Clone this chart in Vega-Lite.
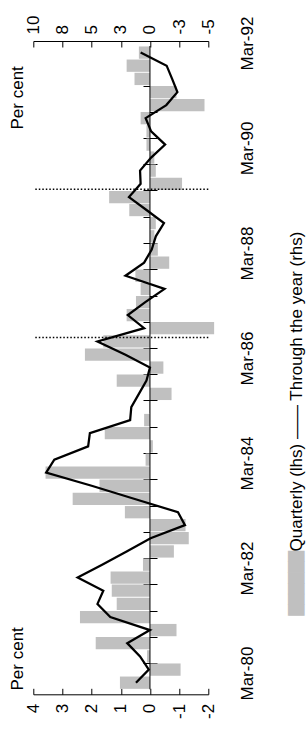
{
  "$schema": "https://vega.github.io/schema/vega-lite/v6.json",
  "width": 175,
  "height": 653.3,
  "autosize": {"type": "none"},
  "padding": {"left": 33.3, "top": 41, "right": 98.7, "bottom": 41.7},
  "config": {
    "view": {"stroke": null},
    "font": "Liberation Sans",
    "axis": {"grid": false, "labelFont": "Liberation Sans", "titleFont": "Liberation Sans", "labelColor": "#000", "titleColor": "#000", "domainColor": "#000", "tickColor": "#000", "labelFontSize": 17, "titleFontSize": 17, "titleFontWeight": "normal"}
  },
  "datasets": {
    "series": [
      {"d": "1979-12-01", "q": 1.03, "t": 1.2},
      {"d": "1980-03-01", "q": -1.05, "t": 0.1},
      {"d": "1980-06-01", "q": 0.1, "t": 0.85},
      {"d": "1980-09-01", "q": 1.86, "t": 1.95},
      {"d": "1980-12-01", "q": -0.91, "t": 0.0},
      {"d": "1981-03-01", "q": 2.4, "t": 3.4},
      {"d": "1981-06-01", "q": 1.14, "t": 4.5},
      {"d": "1981-09-01", "q": 1.31, "t": 4.0},
      {"d": "1981-12-01", "q": 1.35, "t": 6.2},
      {"d": "1982-03-01", "q": 0.24, "t": 4.1},
      {"d": "1982-06-01", "q": -0.82, "t": 2.0},
      {"d": "1982-09-01", "q": -1.33, "t": -0.05},
      {"d": "1982-12-01", "q": -1.22, "t": -3.0},
      {"d": "1983-03-01", "q": 0.86, "t": -2.4},
      {"d": "1983-06-01", "q": 2.65, "t": 1.3},
      {"d": "1983-09-01", "q": 1.73, "t": 5.0},
      {"d": "1983-12-01", "q": 3.58, "t": 8.9},
      {"d": "1984-03-01", "q": 0.15, "t": 8.2},
      {"d": "1984-06-01", "q": -0.1, "t": 5.3},
      {"d": "1984-09-01", "q": 1.55, "t": 5.15},
      {"d": "1984-12-01", "q": 0.2, "t": 1.7},
      {"d": "1985-03-01", "q": 0.03, "t": 1.6},
      {"d": "1985-06-01", "q": -0.74, "t": 0.95},
      {"d": "1985-09-01", "q": 1.14, "t": 0.3},
      {"d": "1985-12-01", "q": -0.46, "t": 0.0},
      {"d": "1986-03-01", "q": 2.23, "t": 2.1},
      {"d": "1986-06-01", "q": 1.6, "t": 4.5},
      {"d": "1986-09-01", "q": -2.2, "t": 0.5},
      {"d": "1986-12-01", "q": 0.8, "t": 1.9},
      {"d": "1987-03-01", "q": 0.48, "t": 0.4},
      {"d": "1987-06-01", "q": 0.32, "t": -1.25},
      {"d": "1987-09-01", "q": 0.5, "t": 2.1},
      {"d": "1987-12-01", "q": -0.66, "t": 0.5},
      {"d": "1988-03-01", "q": -0.27, "t": -0.15},
      {"d": "1988-06-01", "q": -0.15, "t": -0.5},
      {"d": "1988-09-01", "q": -0.2, "t": -1.2},
      {"d": "1988-12-01", "q": 0.71, "t": 0.3},
      {"d": "1989-03-01", "q": 1.4, "t": 1.8},
      {"d": "1989-06-01", "q": -1.1, "t": 0.8},
      {"d": "1989-09-01", "q": -0.2, "t": 0.85},
      {"d": "1989-12-01", "q": -0.15, "t": -0.1},
      {"d": "1990-03-01", "q": 0.12, "t": -1.3},
      {"d": "1990-06-01", "q": 0.12, "t": -0.1},
      {"d": "1990-09-01", "q": 0.32, "t": 0.37},
      {"d": "1990-12-01", "q": -1.87, "t": -1.4},
      {"d": "1991-03-01", "q": -0.91, "t": -2.35},
      {"d": "1991-06-01", "q": 0.53, "t": -1.9},
      {"d": "1991-09-01", "q": 0.8, "t": -1.43},
      {"d": "1991-12-01", "q": 0.38, "t": 0.8}
    ],
    "events": [
      {"d": "1986-06-28"},
      {"d": "1989-04-25"}
    ]
  },
  "resolve": {"scale": {"x": "independent"}, "axis": {"x": "independent", "y": "independent"}},
  "layer": [
    {
      "data": {"name": "series"},
      "mark": {"type": "bar", "orient": "horizontal", "size": 12.3, "color": "#c0c0c0"},
      "encoding": {
        "x": {
          "field": "q", "type": "quantitative",
          "scale": {"domain": [-2, 4], "reverse": true, "nice": false, "zero": true},
          "axis": {"orient": "bottom", "values": [-2, -1, 0, 1, 2, 3, 4], "labelAngle": 270, "labelAlign": "right", "labelBaseline": "middle", "labelPadding": 15, "tickSize": -6, "labelFlush": false, "labelOverlap": false,
            "labelExpr": "datum.value < 0 ? '-' + (-datum.value) : '' + datum.value",
            "title": "Per cent", "titleAngle": 270, "titleAlign": "left", "titleBaseline": "middle", "titleX": -16.3, "titleY": -4.3}
        },
        "y": {
          "field": "d", "type": "temporal",
          "scale": {"type": "utc", "nice": false, "domain": [{"year": 1979, "month": 10, "date": 16, "utc": true}, {"year": 1992, "month": 1, "date": 16, "utc": true}]},
          "axis": {"orient": "right", "values": [
              {"year": 1980, "month": 1, "date": 16, "utc": true},
              {"year": 1982, "month": 1, "date": 16, "utc": true},
              {"year": 1984, "month": 1, "date": 16, "utc": true},
              {"year": 1986, "month": 1, "date": 16, "utc": true},
              {"year": 1988, "month": 1, "date": 16, "utc": true},
              {"year": 1990, "month": 1, "date": 16, "utc": true},
              {"year": 1992, "month": 1, "date": 16, "utc": true}],
            "labelExpr": "'Mar-' + utcFormat(datum.value, '%y')",
            "labelAngle": 270, "labelAlign": "center", "labelBaseline": "top", "labelPadding": 31, "labelOffset": -3,
            "ticks": false, "tickSize": 0, "domain": false, "title": null, "labelFlush": false, "labelOverlap": false, "labelBound": false}
        }
      }
    },
    {
      "data": {"name": "series"},
      "mark": {"type": "line", "color": "#000", "strokeWidth": 2.25},
      "encoding": {
        "x": {
          "field": "t", "type": "quantitative",
          "scale": {"domain": [-5, 10], "reverse": true, "nice": false, "zero": false},
          "axis": {"orient": "top", "values": [-5, -2.5, 0, 2.5, 5, 7.5, 10], "labelAngle": 270, "labelAlign": "left", "labelBaseline": "middle", "labelPadding": 13, "tickSize": -6, "labelFlush": false, "labelOverlap": false,
            "labelExpr": "datum.value < 0 ? '-' + round(-datum.value) : '' + round(datum.value)",
            "title": "Per cent", "titleAngle": 270, "titleAlign": "left", "titleBaseline": "middle", "titleX": -16.3, "titleY": 88}
        },
        "y": {
          "field": "d", "type": "temporal",
          "scale": {"type": "utc", "nice": false, "domain": [{"year": 1979, "month": 10, "date": 16, "utc": true}, {"year": 1992, "month": 1, "date": 16, "utc": true}]},
          "axis": {"orient": "right", "labels": false, "ticks": false, "domain": false, "grid": false,
            "title": "Quarterly (lhs)   —— Through the year (rhs)", "titleAngle": 270, "titleAlign": "left", "titleBaseline": "middle", "titleX": 88, "titleY": 510}
        },
        "order": {"field": "d", "type": "temporal"}
      }
    },
    {
      "data": {"values": [{}]},
      "mark": {"type": "rule", "color": "#000", "strokeWidth": 1},
      "encoding": {
        "x": {"datum": 0, "type": "quantitative", "scale": {"domain": [-2, 4], "reverse": true, "nice": false}, "axis": null},
        "y": {"datum": {"year": 1979, "month": 10, "date": 16, "utc": true}, "type": "temporal",
          "scale": {"type": "utc", "nice": false, "domain": [{"year": 1979, "month": 10, "date": 16, "utc": true}, {"year": 1992, "month": 1, "date": 16, "utc": true}]},
          "axis": {"orient": "right", "labels": false, "ticks": false, "domain": false, "grid": false,
            "title": "██████", "titleFont": "DejaVu Sans", "titleFontSize": 14, "titleColor": "#c0c0c0", "titleAngle": 270, "titleAlign": "left", "titleBaseline": "middle", "titleX": 88, "titleY": 574}},
        "y2": {"datum": {"year": 1992, "month": 1, "date": 16, "utc": true}}
      }
    },
    {
      "data": {"name": "events"},
      "mark": {"type": "rule", "color": "#000", "strokeWidth": 1.5, "strokeDash": [1.5, 2]},
      "encoding": {
        "y": {
          "field": "d", "type": "temporal",
          "scale": {"type": "utc", "nice": false, "domain": [{"year": 1979, "month": 10, "date": 16, "utc": true}, {"year": 1992, "month": 1, "date": 16, "utc": true}]},
          "axis": {"orient": "left", "offset": -123.7, "labels": false, "domain": false, "grid": false, "ticks": true, "tickSize": 14, "tickWidth": 1, "tickColor": "#000", "title": null,
            "values": [
              {"year": 1980, "month": 4, "date": 16, "utc": true}, {"year": 1980, "month": 10, "date": 16, "utc": true},
              {"year": 1981, "month": 4, "date": 16, "utc": true}, {"year": 1981, "month": 10, "date": 16, "utc": true},
              {"year": 1982, "month": 4, "date": 16, "utc": true}, {"year": 1982, "month": 10, "date": 16, "utc": true},
              {"year": 1983, "month": 4, "date": 16, "utc": true}, {"year": 1983, "month": 10, "date": 16, "utc": true},
              {"year": 1984, "month": 4, "date": 16, "utc": true}, {"year": 1984, "month": 10, "date": 16, "utc": true},
              {"year": 1985, "month": 4, "date": 16, "utc": true}, {"year": 1985, "month": 10, "date": 16, "utc": true},
              {"year": 1986, "month": 4, "date": 16, "utc": true}, {"year": 1986, "month": 10, "date": 16, "utc": true},
              {"year": 1987, "month": 4, "date": 16, "utc": true}, {"year": 1987, "month": 10, "date": 16, "utc": true},
              {"year": 1988, "month": 4, "date": 16, "utc": true}, {"year": 1988, "month": 10, "date": 16, "utc": true},
              {"year": 1989, "month": 4, "date": 16, "utc": true}, {"year": 1989, "month": 10, "date": 16, "utc": true},
              {"year": 1990, "month": 4, "date": 16, "utc": true}, {"year": 1990, "month": 10, "date": 16, "utc": true},
              {"year": 1991, "month": 4, "date": 16, "utc": true}]}
        }
      }
    }
  ]
}
